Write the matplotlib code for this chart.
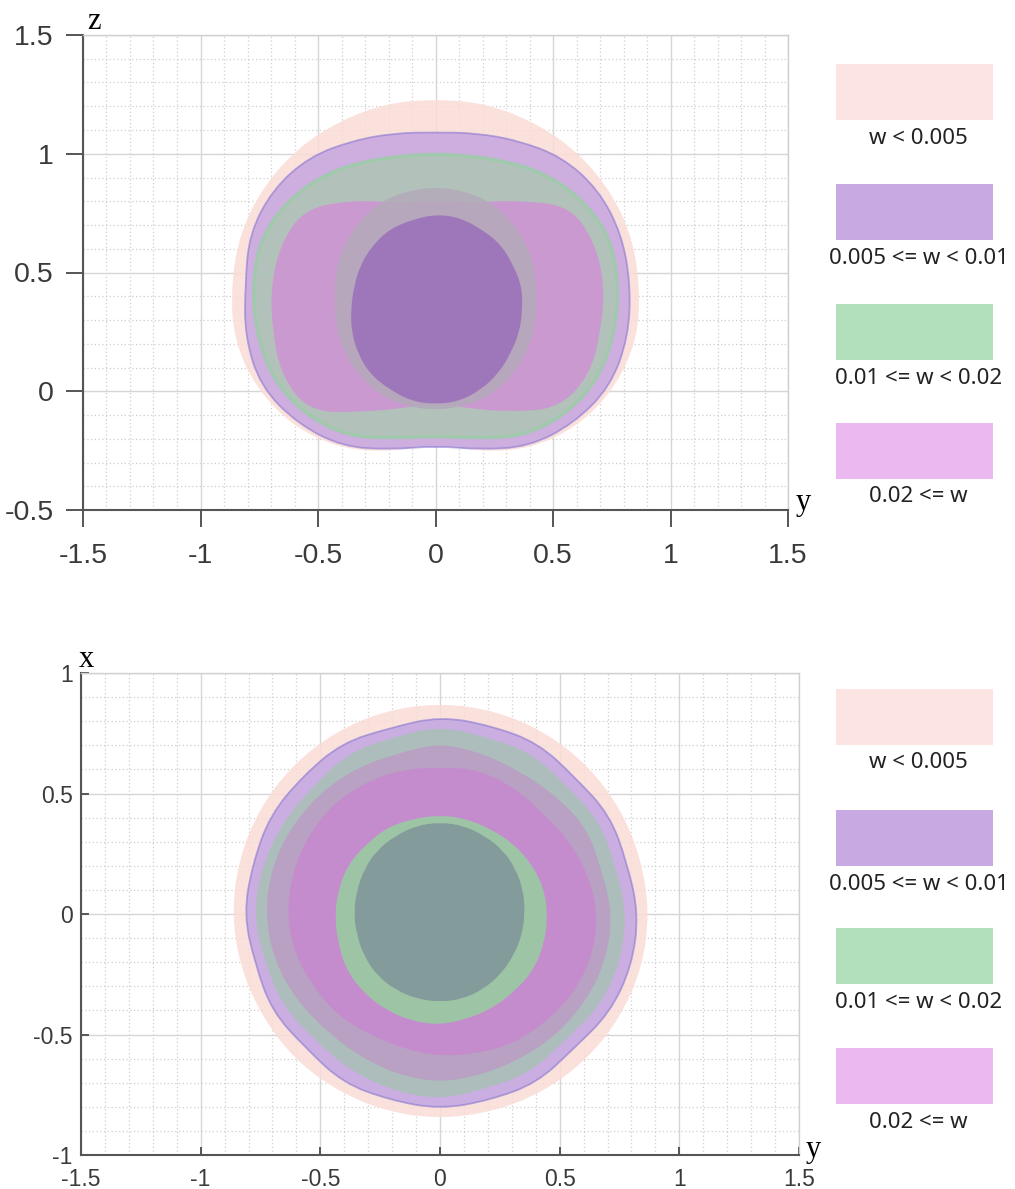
import numpy as np
import matplotlib
matplotlib.use("Agg")
import matplotlib.pyplot as plt
from matplotlib.patches import PathPatch, Rectangle
from matplotlib.path import Path
from matplotlib.ticker import MultipleLocator

plt.rcParams["font.family"] = ["Liberation Sans", "DejaVu Sans"]

# legend classes (same for both panels)
class_labels = ["w < 0.005", "0.005 <= w < 0.01", "0.01 <= w < 0.02", "0.02 <= w"]
class_colors = ["#fce4e2", "#c9a9e2", "#b3e0bc", "#ebb8ef"]

# outline radii, read every 15 degrees (0 = +y, counter-clockwise)
ANGLES_DEG = np.arange(0, 360, 15)

# top panel: y-z projection
top_centers = [(0.0, 0.45), (0.0, 0.45), (0.0, 0.45), (0.0, 0.45), (0.0, 0.39), (0.0, 0.345)]
top_colors = ["#fbdcd6", "#c6a6e0", "#adc6b4", "#cf92d4", "#b3aab9", "#9a6fba"]
top_pink_r = [0.87, 0.86, 0.84, 0.82, 0.80, 0.79, 0.78, 0.79, 0.80, 0.82, 0.84, 0.86,
              0.87, 0.89, 0.88, 0.85, 0.80, 0.73, 0.67, 0.73, 0.80, 0.85, 0.88, 0.89]
top_purple_r = [0.83, 0.82, 0.80, 0.76, 0.70, 0.66, 0.64, 0.66, 0.70, 0.76, 0.80, 0.82,
                0.81, 0.84, 0.86, 0.83, 0.79, 0.72, 0.68, 0.72, 0.79, 0.83, 0.86, 0.85]
top_green_r = [0.78, 0.77, 0.72, 0.66, 0.60, 0.56, 0.55, 0.56, 0.60, 0.66, 0.72, 0.77,
               0.78, 0.79, 0.80, 0.78, 0.74, 0.67, 0.64, 0.67, 0.74, 0.78, 0.80, 0.79]
top_magenta_r = [0.72, 0.70, 0.66, 0.50, 0.40, 0.36, 0.35, 0.36, 0.40, 0.50, 0.64, 0.68,
                 0.70, 0.72, 0.76, 0.76, 0.62, 0.54, 0.50, 0.54, 0.62, 0.74, 0.76, 0.73]
top_ring_r = [0.43, 0.44, 0.45, 0.46, 0.47, 0.47, 0.47, 0.47, 0.47, 0.46, 0.45, 0.44,
              0.43, 0.44, 0.45, 0.46, 0.47, 0.47, 0.47, 0.47, 0.47, 0.46, 0.45, 0.44]
top_core_r = [0.37, 0.38, 0.38, 0.39, 0.39, 0.40, 0.40, 0.39, 0.39, 0.38, 0.37, 0.36,
              0.36, 0.37, 0.38, 0.39, 0.39, 0.40, 0.40, 0.40, 0.39, 0.38, 0.37, 0.37]
top_radii = [top_pink_r, top_purple_r, top_green_r, top_magenta_r, top_ring_r, top_core_r]

# bottom panel: y-x projection
bot_centers = [(0.0, 0.005), (0.0, 0.0), (0.0, 0.0), (0.0, 0.0), (0.0, 0.0), (0.0, -0.01), (0.0, 0.005)]
bot_colors = ["#fbdcd6", "#c2a6e2", "#a8c0b5", "#bb9cc4", "#c789cf", "#98cfa0", "#7f9498"]
bot_pink_r = [0.875, 0.87, 0.87, 0.87, 0.87, 0.87, 0.87, 0.87, 0.87, 0.87, 0.87, 0.87,
              0.87, 0.865, 0.86, 0.86, 0.855, 0.855, 0.855, 0.855, 0.86, 0.865, 0.87, 0.875]
bot_purple_r = [0.83, 0.81, 0.82, 0.80, 0.82, 0.81, 0.82, 0.80, 0.82, 0.81, 0.82, 0.81,
                0.82, 0.80, 0.81, 0.79, 0.81, 0.80, 0.81, 0.80, 0.81, 0.79, 0.82, 0.83]
bot_green_r = [0.78, 0.76, 0.77, 0.75, 0.77, 0.76, 0.78, 0.76, 0.77, 0.75, 0.76, 0.77,
               0.78, 0.76, 0.76, 0.74, 0.75, 0.76, 0.77, 0.75, 0.76, 0.74, 0.77, 0.78]
bot_mauve_r = [0.72, 0.70, 0.71, 0.69, 0.68, 0.69, 0.71, 0.69, 0.70, 0.71, 0.72, 0.73,
               0.73, 0.72, 0.70, 0.68, 0.68, 0.69, 0.70, 0.69, 0.69, 0.70, 0.71, 0.72]
bot_magenta_r = [0.66, 0.64, 0.62, 0.60, 0.61, 0.62, 0.61, 0.62, 0.63, 0.64, 0.64, 0.64,
                 0.64, 0.63, 0.61, 0.60, 0.58, 0.58, 0.59, 0.60, 0.62, 0.63, 0.65, 0.66]
bot_ring_r = [0.45, 0.45, 0.44, 0.43, 0.42, 0.42, 0.42, 0.42, 0.43, 0.43, 0.44, 0.44,
              0.44, 0.44, 0.45, 0.45, 0.45, 0.45, 0.45, 0.44, 0.44, 0.44, 0.45, 0.45]
bot_core_r = [0.355, 0.36, 0.365, 0.37, 0.37, 0.375, 0.375, 0.375, 0.37, 0.37, 0.365, 0.36,
              0.36, 0.36, 0.365, 0.37, 0.37, 0.37, 0.37, 0.37, 0.365, 0.36, 0.355, 0.355]
bot_radii = [bot_pink_r, bot_purple_r, bot_green_r, bot_mauve_r, bot_magenta_r, bot_ring_r, bot_core_r]

y_ticks = [-1.5, -1, -0.5, 0, 0.5, 1, 1.5]
z_ticks = [-0.5, 0, 0.5, 1, 1.5]
x_ticks = [-1, -0.5, 0, 0.5, 1]


def outline_path(center, radii):
    # closed outline through the read radii, drawn as quadratic curves
    a = np.deg2rad(ANGLES_DEG)
    r = np.asarray(radii)
    v = np.column_stack([center[0] + r * np.cos(a), center[1] + r * np.sin(a)])
    mids = (v + np.roll(v, -1, axis=0)) / 2
    verts = [mids[-1]]
    codes = [Path.MOVETO]
    for i in range(len(v)):
        verts += [v[i], mids[i]]
        codes += [Path.CURVE3, Path.CURVE3]
    verts.append(mids[-1])
    codes.append(Path.CLOSEPOLY)
    return Path(verts, codes)


def draw_layers(ax, centers, radii, colors, edges):
    for i, (c, r, col) in enumerate(zip(centers, radii, colors)):
        p = outline_path(c, r)
        ax.add_patch(PathPatch(p, facecolor=col, edgecolor="none", alpha=0.85, zorder=2 + i))
        if i in edges:
            ecol, lw, a = edges[i]
            ax.add_patch(PathPatch(p, facecolor="none", edgecolor=ecol,
                                   lw=lw, alpha=a, zorder=2 + i))


def style_axes(ax, xt, yt, tick_dir, tick_len, label_size, xpad, ypad):
    ax.set_xticks(xt)
    ax.set_yticks(yt)
    ax.set_xticklabels([f"{v:g}" for v in xt])
    ax.set_yticklabels([f"{v:g}" for v in yt])
    ax.xaxis.set_minor_locator(MultipleLocator(0.1))
    ax.yaxis.set_minor_locator(MultipleLocator(0.1))
    ax.grid(which="major", color="#d6d6d6", lw=1.0, zorder=0)
    ax.grid(which="minor", color="#cfcfcf", lw=0.9, ls=(0, (1, 2)), zorder=0)
    ax.set_axisbelow(True)
    ax.tick_params(which="minor", length=0)
    ax.tick_params(axis="x", which="major", direction=tick_dir, length=tick_len, width=1.4,
                   color="#555555", labelsize=label_size, labelcolor="#3a3a3a", pad=xpad)
    ax.tick_params(axis="y", which="major", direction=tick_dir, length=tick_len, width=1.4,
                   color="#555555", labelsize=label_size, labelcolor="#3a3a3a", pad=ypad)
    for side in ("left", "bottom"):
        ax.spines[side].set_color("#555555")
        ax.spines[side].set_linewidth(1.5)
    for side in ("top", "right"):
        ax.spines[side].set_color("#d0d0d0")
        ax.spines[side].set_linewidth(1.0)


def draw_legend(fig, tops_px, fig_w, fig_h):
    x0, w, h = 836, 157, 56
    for top, lab, col in zip(tops_px, class_labels, class_colors):
        fig.patches.append(Rectangle((x0 / fig_w, 1 - (top + h) / fig_h), w / fig_w, h / fig_h,
                                     transform=fig.transFigure, facecolor=col, edgecolor="none"))
        fig.text((x0 + w / 2 + 4) / fig_w, 1 - (top + h + 18) / fig_h, lab,
                 ha="center", va="center", fontsize=16, color="#222222",
                 family=["Noto Sans", "DejaVu Sans"])


W, H = 1015, 1189
fig = plt.figure(figsize=(W / 100, H / 100), dpi=100)

# top panel
ax1 = fig.add_axes([83 / W, 1 - 510 / H, 705 / W, 475 / H])
ax1.set_xlim(-1.5, 1.5)
ax1.set_ylim(-0.5, 1.5)
draw_layers(ax1, top_centers, top_radii, top_colors,
            {1: ("#7f6fd0", 1.3, 0.55), 2: ("#8fd39c", 2.5, 0.6)})
style_axes(ax1, y_ticks, z_ticks, "out", 12, 20.5, 12, 9)
ax1.text(0.016, 1.028, "z", transform=ax1.transAxes, ha="center", va="center",
         fontsize=22, family=["Liberation Serif", "DejaVu Serif"])
ax1.text(1.022, 0.015, "y", transform=ax1.transAxes, ha="center", va="center",
         fontsize=22, family=["Liberation Serif", "DejaVu Serif"])

# bottom panel
ax2 = fig.add_axes([81 / W, 1 - 1155 / H, 718 / W, 482 / H])
ax2.set_xlim(-1.5, 1.5)
ax2.set_ylim(-1, 1)
draw_layers(ax2, bot_centers, bot_radii, bot_colors, {1: ("#7f6fd0", 1.3, 0.55)})
style_axes(ax2, y_ticks, x_ticks, "in", 6, 16.5, 9, 6)
ax2.text(0.008, 1.028, "x", transform=ax2.transAxes, ha="center", va="center",
         fontsize=22, family=["Liberation Serif", "DejaVu Serif"])
ax2.text(1.02, 0.012, "y", transform=ax2.transAxes, ha="center", va="center",
         fontsize=22, family=["Liberation Serif", "DejaVu Serif"])

draw_legend(fig, [64, 184, 304, 423], W, H)
draw_legend(fig, [689, 810, 928, 1048], W, H)

fig.savefig("out.png", dpi=100)
